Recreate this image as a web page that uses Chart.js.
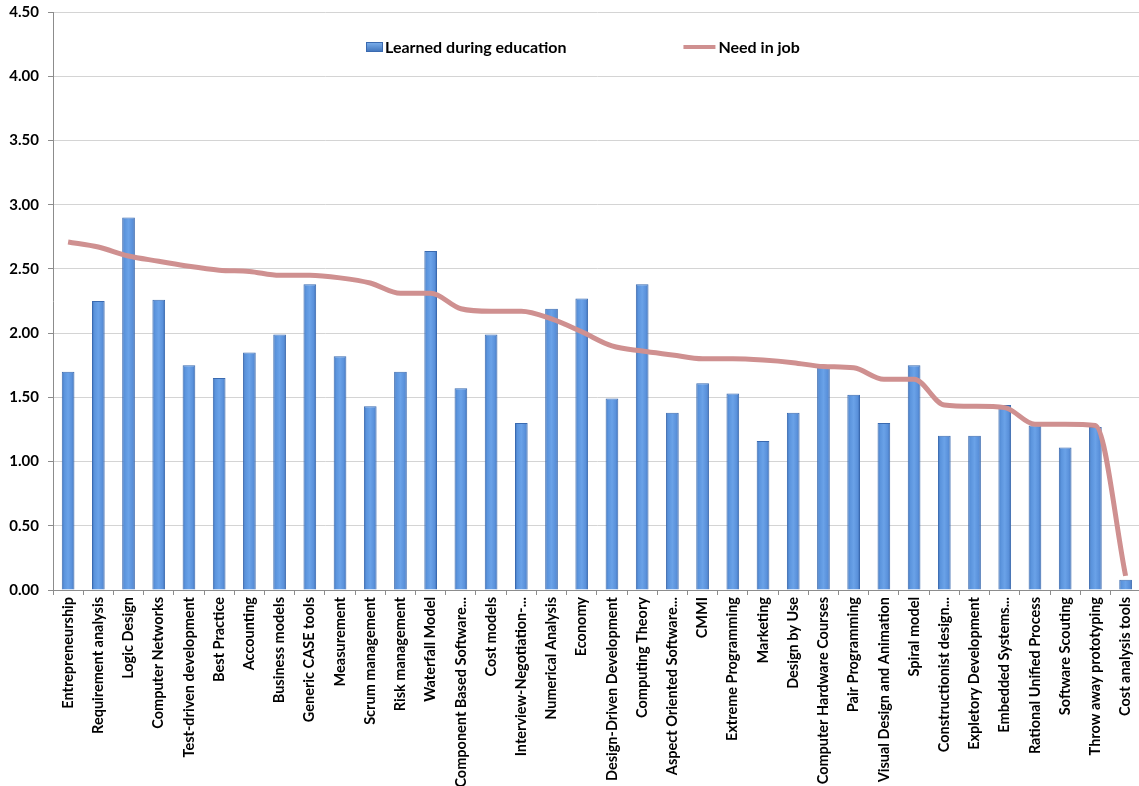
<!DOCTYPE html>
<html>
<head>
<meta charset="utf-8">
<title>Skills: education vs job</title>
<script src="https://cdn.jsdelivr.net/npm/chart.js@4.4.0/dist/chart.umd.min.js"></script>
<style>
  html, body { margin: 0; padding: 0; background: #fff; overflow: hidden; }
  #wrap { width: 1145px; height: 792px; margin-top: -6px; }
</style>
</head>
<body>
<div id="wrap"><canvas id="skillsChart" width="1145" height="792"></canvas></div>
<script>
// topics, in order of how much they are needed in the job
const categories = [
  'Entrepreneurship', 'Requirement analysis', 'Logic Design', 'Computer Networks',
  'Test-driven development', 'Best Practice', 'Accounting', 'Business models',
  'Generic CASE tools', 'Measurement', 'Scrum management', 'Risk management',
  'Waterfall Model', 'Component Based Software...', 'Cost models', 'Interview-Negotiation-...',
  'Numerical Analysis', 'Economy', 'Design-Driven Development', 'Computing Theory',
  'Aspect Oriented Software...', 'CMMI', 'Extreme Programming', 'Marketing',
  'Design by Use', 'Computer Hardware Courses', 'Pair Programming', 'Visual Design and Animation',
  'Spiral model', 'Constructionist design...', 'Expletory Development', 'Embedded Systems...',
  'Rational Unified Process', 'Software Scouting', 'Throw away prototyping', 'Cost analysis tools'
];

const learned = [
  1.70, 2.25, 2.90, 2.26, 1.75, 1.65, 1.85, 1.99, 2.38, 1.82, 1.43, 1.70,
  2.64, 1.57, 1.99, 1.30, 2.19, 2.27, 1.49, 2.38, 1.38, 1.61, 1.53, 1.16,
  1.38, 1.75, 1.52, 1.30, 1.75, 1.20, 1.20, 1.44, 1.28, 1.11, 1.27, 0.08
];

const needInJob = [
  2.71, 2.67, 2.60, 2.56, 2.52, 2.49, 2.48, 2.45, 2.45, 2.43, 2.39, 2.31,
  2.31, 2.19, 2.17, 2.17, 2.11, 2.01, 1.90, 1.86, 1.83, 1.80, 1.80, 1.79,
  1.77, 1.74, 1.73, 1.64, 1.64, 1.44, 1.43, 1.42, 1.29, 1.29, 1.28, 0.11
];

const seriesNames = ['Learned during education', 'Need in job'];

const lineColor = '#CF9090';
const barPct = 0.42;
const fontStack = 'Lato, "Open Sans", sans-serif';

Chart.defaults.font.family = fontStack;
Chart.defaults.font.weight = 'bold';
Chart.defaults.color = '#000';

// cylinder-like shading across each bar
function barFill(ctx) {
  const chart = ctx.chart;
  const x = chart.scales.x;
  if (!x || ctx.dataIndex === undefined) return '#5B93DC';
  const cx = x.getPixelForValue(ctx.dataIndex);
  const half = (x.width / categories.length) * barPct / 2;
  if (!isFinite(cx) || !isFinite(half) || half <= 0) return '#5B93DC';
  const g = chart.ctx.createLinearGradient(cx - half, 0, cx + half, 0);
  g.addColorStop(0, '#3E72BA');
  g.addColorStop(0.18, '#5A93DC');
  g.addColorStop(0.5, '#6AA2E8');
  g.addColorStop(0.82, '#5990DA');
  g.addColorStop(1, '#3A6AB0');
  return g;
}

// legend sits inside the plot, near the top
const innerLegend = {
  id: 'innerLegend',
  afterDatasetsDraw(chart) {
    const c = chart.ctx;
    const area = chart.chartArea;
    const y = area.top + 35;
    let x = area.left + 313;
    c.save();
    c.font = 'bold 16px ' + fontStack;
    c.textBaseline = 'middle';

    const g = c.createLinearGradient(0, y - 5, 0, y + 5);
    g.addColorStop(0, '#7FB2EE');
    g.addColorStop(1, '#3E72BA');
    c.fillStyle = g;
    c.fillRect(x, y - 5, 17, 10);
    c.strokeStyle = '#3A6AB0';
    c.lineWidth = 1;
    c.strokeRect(x + 0.5, y - 4.5, 16, 9);
    x += 19;
    c.fillStyle = '#000';
    c.fillText(chart.data.datasets[1].label, x, y + 1);
    x += c.measureText(chart.data.datasets[1].label).width + 117;

    c.strokeStyle = lineColor;
    c.lineWidth = 4;
    c.beginPath();
    c.moveTo(x, y);
    c.lineTo(x + 32, y);
    c.stroke();
    x += 35;
    c.fillText(chart.data.datasets[0].label, x, y + 1);
    c.restore();
  }
};

new Chart(document.getElementById('skillsChart').getContext('2d'), {
  type: 'bar',
  data: {
    labels: categories,
    datasets: [
      {
        type: 'line',
        label: seriesNames[1],
        data: needInJob,
        borderColor: lineColor,
        borderWidth: 5,
        pointRadius: 0,
        cubicInterpolationMode: 'monotone',
        order: 0
      },
      {
        type: 'bar',
        label: seriesNames[0],
        data: learned,
        backgroundColor: barFill,
        borderColor: '#3A6AB0',
        borderWidth: 1,
        barPercentage: barPct,
        categoryPercentage: 1,
        order: 1
      }
    ]
  },
  options: {
    responsive: false,
    animation: false,
    layout: { padding: 0 },
    plugins: {
      legend: { display: false },
      tooltip: { enabled: false }
    },
    scales: {
      x: {
        grid: {
          drawOnChartArea: false,
          drawTicks: true,
          tickLength: 5,
          color: '#8C8C8C'
        },
        border: { color: '#8C8C8C' },
        ticks: {
          autoSkip: false,
          maxRotation: 90,
          minRotation: 90,
          padding: 2,
          font: { size: 14.5, weight: 'bold' }
        },
        afterFit(s) { s.height = 196; }
      },
      y: {
        min: 0,
        max: 4.5,
        grid: {
          color: '#D4D4D4',
          tickLength: 5,
          tickColor: '#8C8C8C'
        },
        border: { color: '#8C8C8C' },
        ticks: {
          stepSize: 0.5,
          padding: 9,
          font: { size: 15, weight: 'bold' },
          callback: v => v.toFixed(2)
        },
        afterFit(s) { s.width = 53; }
      }
    }
  },
  plugins: [innerLegend]
});
</script>
</body>
</html>
